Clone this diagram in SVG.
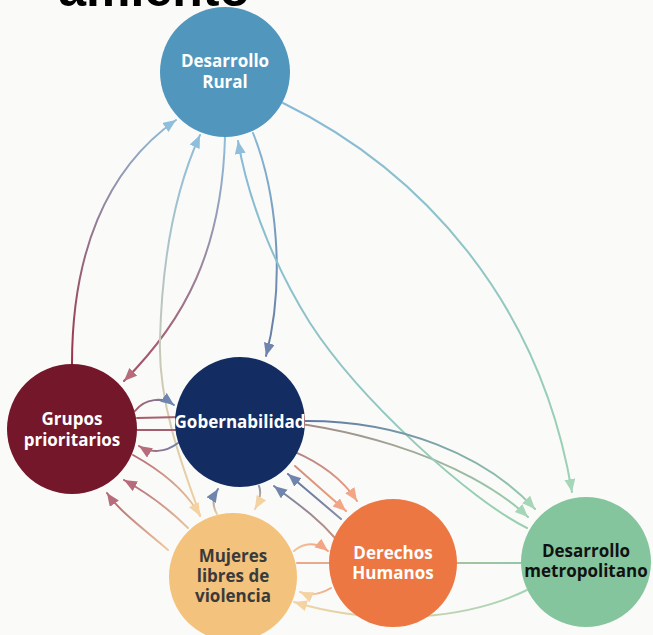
<svg xmlns="http://www.w3.org/2000/svg" width="653" height="635" viewBox="0 0 653 635">
<style>
.c{fill:none;stroke-width:2;stroke-linecap:round}
.t{font-family:"Open Sans",Lato,"Liberation Sans",sans-serif;font-weight:700;font-size:17px;text-anchor:middle}
.w{fill:#ffffff}
.k{fill:#3a3a3a}
.b{fill:#111111}
</style>
<defs>
<marker id="mDR" markerUnits="userSpaceOnUse" markerWidth="15" markerHeight="13" refX="13" refY="5.5" orient="auto"><path d="M0,0 L13,5.5 L0,11 z" fill="#8ebedb"/></marker>
<marker id="mGO" markerUnits="userSpaceOnUse" markerWidth="15" markerHeight="13" refX="13" refY="5.5" orient="auto"><path d="M0,0 L13,5.5 L0,11 z" fill="#7085ad"/></marker>
<marker id="mGP" markerUnits="userSpaceOnUse" markerWidth="15" markerHeight="13" refX="13" refY="5.5" orient="auto"><path d="M0,0 L13,5.5 L0,11 z" fill="#b86b7b"/></marker>
<marker id="mMU" markerUnits="userSpaceOnUse" markerWidth="15" markerHeight="13" refX="13" refY="5.5" orient="auto"><path d="M0,0 L13,5.5 L0,11 z" fill="#f4d3a3"/></marker>
<marker id="mDH" markerUnits="userSpaceOnUse" markerWidth="15" markerHeight="13" refX="13" refY="5.5" orient="auto"><path d="M0,0 L13,5.5 L0,11 z" fill="#f2a685"/></marker>
<marker id="mDM" markerUnits="userSpaceOnUse" markerWidth="15" markerHeight="13" refX="13" refY="5.5" orient="auto"><path d="M0,0 L13,5.5 L0,11 z" fill="#a6d6b8"/></marker>
<linearGradient id="g1" gradientUnits="userSpaceOnUse" x1="72" y1="364" x2="176" y2="120"><stop offset="0" stop-color="#9a3347"/><stop offset="1" stop-color="#8ebedb"/></linearGradient>
<linearGradient id="g2" gradientUnits="userSpaceOnUse" x1="225" y1="137" x2="124" y2="381"><stop offset="0" stop-color="#8ebedb"/><stop offset="1" stop-color="#a84a5e"/></linearGradient>
<linearGradient id="g3" gradientUnits="userSpaceOnUse" x1="200" y1="515" x2="200" y2="135"><stop offset="0" stop-color="#f0d09e"/><stop offset="1" stop-color="#8ebedb"/></linearGradient>
<linearGradient id="g4" gradientUnits="userSpaceOnUse" x1="259" y1="486" x2="255" y2="509"><stop offset="0" stop-color="#8a90a8"/><stop offset="1" stop-color="#f0cf9a"/></linearGradient>
<linearGradient id="g5" gradientUnits="userSpaceOnUse" x1="217" y1="514" x2="218" y2="489"><stop offset="0" stop-color="#e8cfa0"/><stop offset="1" stop-color="#6d80a8"/></linearGradient>
<linearGradient id="g6" gradientUnits="userSpaceOnUse" x1="135" y1="411" x2="174" y2="405"><stop offset="0" stop-color="#a9596a"/><stop offset="1" stop-color="#6f84ac"/></linearGradient>
<linearGradient id="g7" gradientUnits="userSpaceOnUse" x1="178" y1="443" x2="139" y2="446"><stop offset="0" stop-color="#6f84ac"/><stop offset="1" stop-color="#b0606f"/></linearGradient>
<linearGradient id="g8" gradientUnits="userSpaceOnUse" x1="137" y1="418" x2="528" y2="517"><stop offset="0" stop-color="#a9596a"/><stop offset="1" stop-color="#9acfae"/></linearGradient>
<linearGradient id="g9" gradientUnits="userSpaceOnUse" x1="137" y1="430" x2="357" y2="501"><stop offset="0" stop-color="#a9596a"/><stop offset="0.5" stop-color="#8a6f90"/><stop offset="1" stop-color="#ef9f7c"/></linearGradient>
<linearGradient id="g10" gradientUnits="userSpaceOnUse" x1="253" y1="133" x2="266" y2="356"><stop offset="0" stop-color="#86b8d6"/><stop offset="1" stop-color="#6479a3"/></linearGradient>
<linearGradient id="g11" gradientUnits="userSpaceOnUse" x1="527" y1="528" x2="238" y2="141"><stop offset="0" stop-color="#9ad0b0"/><stop offset="1" stop-color="#86bad8"/></linearGradient>
<linearGradient id="g12" gradientUnits="userSpaceOnUse" x1="283" y1="103" x2="572" y2="492"><stop offset="0" stop-color="#86b9d8"/><stop offset="1" stop-color="#9dd2b2"/></linearGradient>
<linearGradient id="g13" gradientUnits="userSpaceOnUse" x1="303" y1="421" x2="535" y2="509"><stop offset="0" stop-color="#5f76a3"/><stop offset="1" stop-color="#96cdad"/></linearGradient>
<linearGradient id="g14" gradientUnits="userSpaceOnUse" x1="295" y1="466" x2="346" y2="511"><stop offset="0" stop-color="#d0907a"/><stop offset="1" stop-color="#f0a07d"/></linearGradient>
<linearGradient id="g15" gradientUnits="userSpaceOnUse" x1="341" y1="519" x2="288" y2="474"><stop offset="0" stop-color="#8a8aa5"/><stop offset="1" stop-color="#5f76a3"/></linearGradient>
<linearGradient id="g16" gradientUnits="userSpaceOnUse" x1="335" y1="538" x2="274" y2="486"><stop offset="0" stop-color="#c49080"/><stop offset="1" stop-color="#6d80a8"/></linearGradient>
<linearGradient id="g17" gradientUnits="userSpaceOnUse" x1="294" y1="551" x2="328" y2="551"><stop offset="0" stop-color="#f2c39a"/><stop offset="1" stop-color="#f0a07d"/></linearGradient>
<linearGradient id="g18" gradientUnits="userSpaceOnUse" x1="331" y1="588" x2="300" y2="592"><stop offset="0" stop-color="#f0a885"/><stop offset="1" stop-color="#f3d1a0"/></linearGradient>
<linearGradient id="g19" gradientUnits="userSpaceOnUse" x1="297" y1="563" x2="521" y2="563"><stop offset="0" stop-color="#eea88a"/><stop offset="1" stop-color="#8fcaa9"/></linearGradient>
<linearGradient id="g20" gradientUnits="userSpaceOnUse" x1="527" y1="590" x2="294" y2="602"><stop offset="0" stop-color="#a3d4b6"/><stop offset="1" stop-color="#f3d3a3"/></linearGradient>
<linearGradient id="g21" gradientUnits="userSpaceOnUse" x1="188" y1="528" x2="124" y2="480"><stop offset="0" stop-color="#e7c49c"/><stop offset="1" stop-color="#b0606f"/></linearGradient>
<linearGradient id="g22" gradientUnits="userSpaceOnUse" x1="168" y1="550" x2="107" y2="493"><stop offset="0" stop-color="#eec79e"/><stop offset="1" stop-color="#b0606f"/></linearGradient>
<linearGradient id="g23" gradientUnits="userSpaceOnUse" x1="133" y1="455" x2="200" y2="516"><stop offset="0" stop-color="#b46a74"/><stop offset="1" stop-color="#f0cf9a"/></linearGradient>
</defs>
<rect width="653" height="635" fill="#fafaf8"/>
<text x="250" y="6" font-family="'Liberation Sans',Arial,sans-serif" font-weight="700" font-size="50" text-anchor="end" fill="#000000">amiento</text>
<g id="connectors">
<path class="c" stroke="url(#g1)" marker-end="url(#mDR)" d="M72,364 C72,255 105,170 176,120"/>
<path class="c" stroke="url(#g2)" marker-end="url(#mGP)" d="M225,137 C222,250 185,320 124,381"/>
<path class="c" stroke="url(#g3)" marker-end="url(#mDR)" d="M200,515 C180,460 158,400 160,340 C162,260 175,190 200,135"/>
<path class="c" stroke="url(#g4)" marker-end="url(#mMU)" d="M259,486 C262,494 259,502 255,509"/>
<path class="c" stroke="url(#g5)" marker-end="url(#mGO)" d="M217,514 C212,506 213,497 218,489"/>
<path class="c" stroke="url(#g6)" marker-end="url(#mGO)" d="M135,411 C145,398 163,397 174,405"/>
<path class="c" stroke="url(#g7)" marker-end="url(#mGP)" d="M178,443 C165,453 150,453 139,446"/>
<path class="c" stroke="url(#g8)" marker-end="url(#mDM)" d="M137,418 L182,417 C340,413 470,462 528,517"/>
<path class="c" stroke="url(#g9)" marker-end="url(#mDH)" d="M137,430 L182,430 C270,432 330,460 357,501"/>
<path class="c" stroke="url(#g10)" marker-end="url(#mGO)" d="M253,133 C276,190 286,280 266,356"/>
<path class="c" stroke="url(#g11)" marker-end="url(#mDR)" d="M527,528 C470,500 360,400 310,323 C280,275 250,210 238,141"/>
<path class="c" stroke="url(#g12)" marker-end="url(#mDM)" d="M283,103 C420,170 540,300 572,492"/>
<path class="c" stroke="url(#g13)" marker-end="url(#mDM)" d="M303,421 C400,420 485,455 535,509"/>
<path class="c" stroke="url(#g14)" marker-end="url(#mDH)" d="M295,466 L346,511"/>
<path class="c" stroke="url(#g15)" marker-end="url(#mGO)" d="M341,519 L288,474"/>
<path class="c" stroke="url(#g16)" marker-end="url(#mGO)" d="M335,538 C315,515 292,500 274,486"/>
<path class="c" stroke="url(#g17)" marker-end="url(#mDH)" d="M294,551 C305,541 318,543 328,551"/>
<path class="c" stroke="url(#g18)" marker-end="url(#mMU)" d="M331,588 C319,595 309,596 300,592"/>
<path class="c" stroke="url(#g19)" d="M297,563 L521,563"/>
<path class="c" stroke="url(#g20)" marker-end="url(#mMU)" d="M527,590 C470,618 380,628 294,602"/>
<path class="c" stroke="url(#g21)" marker-end="url(#mGP)" d="M188,528 C165,505 142,490 124,480"/>
<path class="c" stroke="url(#g22)" marker-end="url(#mGP)" d="M168,550 C145,530 120,512 107,493"/>
<path class="c" stroke="url(#g23)" marker-end="url(#mMU)" d="M133,455 C160,470 186,490 200,516"/>
</g>
<g id="desarrollo-rural">
<circle cx="225" cy="72" r="65" fill="#5196bd"/>
<text class="t w" x="225" y="67">Desarrollo</text>
<text class="t w" x="225" y="88">Rural</text>
</g>
<g id="grupos-prioritarios">
<circle cx="72" cy="429" r="65" fill="#74172a"/>
<text class="t w" x="72" y="425">Grupos</text>
<text class="t w" x="72" y="446">prioritarios</text>
</g>
<g id="gobernabilidad">
<circle cx="240" cy="422" r="65" fill="#132d62"/>
<text class="t w" x="240" y="428">Gobernabilidad</text>
</g>
<g id="mujeres">
<circle cx="233" cy="577" r="64" fill="#f3c27c"/>
<text class="t k" x="233" y="562">Mujeres</text>
<text class="t k" x="233" y="582">libres de</text>
<text class="t k" x="233" y="602">violencia</text>
</g>
<g id="derechos-humanos">
<circle cx="393" cy="563" r="64" fill="#ec7742"/>
<text class="t w" x="393" y="559">Derechos</text>
<text class="t w" x="393" y="579">Humanos</text>
</g>
<g id="desarrollo-metropolitano">
<circle cx="586" cy="562" r="65" fill="#85c59e"/>
<text class="t b" x="586" y="557">Desarrollo</text>
<text class="t b" x="586" y="577">metropolitano</text>
</g>
</svg>
